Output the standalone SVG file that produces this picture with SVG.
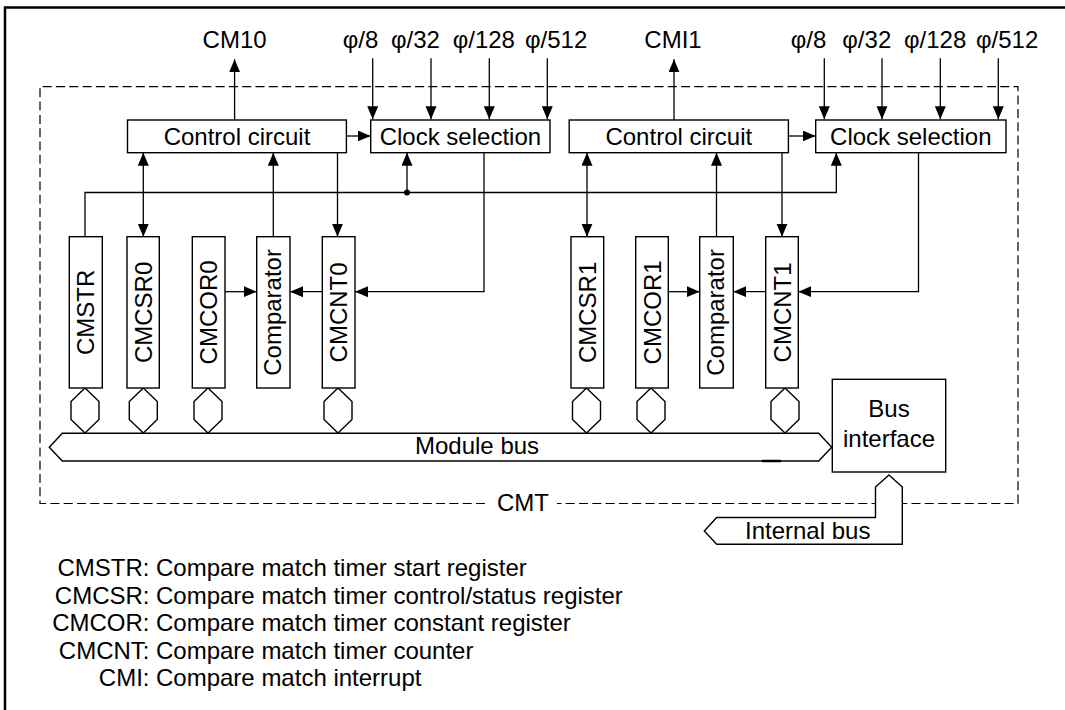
<svg xmlns="http://www.w3.org/2000/svg" width="1065" height="710" viewBox="0 0 1065 710">
<style>
text{font-family:"Liberation Sans",Arial,sans-serif;font-size:24px;fill:#000}
.box{fill:#fff;stroke:#000;stroke-width:1.4}
.ln{fill:none;stroke:#000;stroke-width:1.3}
.mid{text-anchor:middle}
.end{text-anchor:end}
</style>
<defs>
<marker id="ah" markerUnits="userSpaceOnUse" markerWidth="14" markerHeight="12" refX="13" refY="5.5" orient="auto-start-reverse">
<path d="M0,0 L13,5.5 L0,11 z" fill="#000"/>
</marker>
</defs>
<rect x="5" y="7.5" width="1070" height="715" fill="none" stroke="#000" stroke-width="2.5"/>
<g id="cmt-boundary">
<path d="M485 503.5 H40 V86.7 H1018 V503.5 H557" fill="none" stroke="#000" stroke-width="1.2" stroke-dasharray="9 4.3"/>
<text class="mid" x="523" y="511">CMT</text>
</g>
<g id="connectors">
<path class="ln" d="M234.6 120 V59.3" marker-end="url(#ah)"/>
<path class="ln" d="M674 120 V59.3" marker-end="url(#ah)"/>
<path class="ln" d="M372.7 58.3 V119.3" marker-end="url(#ah)"/>
<path class="ln" d="M431 58.3 V119.3" marker-end="url(#ah)"/>
<path class="ln" d="M489.3 58.3 V119.3" marker-end="url(#ah)"/>
<path class="ln" d="M547.3 58.3 V119.3" marker-end="url(#ah)"/>
<path class="ln" d="M824.3 58.3 V119.3" marker-end="url(#ah)"/>
<path class="ln" d="M882 58.3 V119.3" marker-end="url(#ah)"/>
<path class="ln" d="M940.3 58.3 V119.3" marker-end="url(#ah)"/>
<path class="ln" d="M998.3 58.3 V119.3" marker-end="url(#ah)"/>
<path class="ln" d="M346.4 136 H370.7" marker-end="url(#ah)"/>
<path class="ln" d="M788.4 136 H815.7" marker-end="url(#ah)"/>
<path class="ln" d="M143.3 152.7 V236.7" marker-start="url(#ah)" marker-end="url(#ah)"/>
<path class="ln" d="M273.3 236.7 V152.7" marker-end="url(#ah)"/>
<path class="ln" d="M337.5 152.7 V236.7" marker-end="url(#ah)"/>
<path class="ln" d="M85 236.7 V192.5 H836.3 V152.7" marker-end="url(#ah)"/>
<path class="ln" d="M407 192.5 V152.7" marker-end="url(#ah)"/>
<circle cx="407" cy="192.5" r="3" fill="#000"/>
<path class="ln" d="M484 152.7 V291.7 H355" marker-end="url(#ah)"/>
<path class="ln" d="M225 291.7 H256.7" marker-end="url(#ah)"/>
<path class="ln" d="M322.3 291.7 H290" marker-end="url(#ah)"/>
<path class="ln" d="M587 152.7 V236.7" marker-start="url(#ah)" marker-end="url(#ah)"/>
<path class="ln" d="M716.5 236.7 V152.7" marker-end="url(#ah)"/>
<path class="ln" d="M782 152.7 V236.7" marker-end="url(#ah)"/>
<path class="ln" d="M918.5 152.7 V291.7 H798.3" marker-end="url(#ah)"/>
<path class="ln" d="M668.3 291.7 H699.7" marker-end="url(#ah)"/>
<path class="ln" d="M765.7 291.7 H733.3" marker-end="url(#ah)"/>
<polygon class="box" points="85,388 99,401.5 99,419.5 85,433 71,419.5 71,401.5"/>
<polygon class="box" points="143.3,388 157.3,401.5 157.3,419.5 143.3,433 129.3,419.5 129.3,401.5"/>
<polygon class="box" points="208,388 222,401.5 222,419.5 208,433 194,419.5 194,401.5"/>
<polygon class="box" points="338,388 352,401.5 352,419.5 338,433 324,419.5 324,401.5"/>
<polygon class="box" points="586.5,388 600.5,401.5 600.5,419.5 586.5,433 572.5,419.5 572.5,401.5"/>
<polygon class="box" points="651,388 665,401.5 665,419.5 651,433 637,419.5 637,401.5"/>
<polygon class="box" points="785,388 799,401.5 799,419.5 785,433 771,419.5 771,401.5"/>
</g>
<g id="signals">
<text class="mid" x="234.6" y="48.3">CM10</text>
<text class="mid" x="673" y="48.3">CMI1</text>
<text x="342.7" y="48.3">φ/8</text>
<text x="391" y="48.3">φ/32</text>
<text x="452.7" y="48.3">φ/128</text>
<text x="525" y="48.3">φ/512</text>
<text x="790.7" y="48.3">φ/8</text>
<text x="842.3" y="48.3">φ/32</text>
<text x="904" y="48.3">φ/128</text>
<text x="976" y="48.3">φ/512</text>
</g>
<g id="control-circuit-0"><rect class="box" x="127.5" y="120" width="218.9" height="32.7"/><text class="mid" x="237" y="145">Control circuit</text></g>
<g id="clock-selection-0"><rect class="box" x="370.7" y="120" width="179.3" height="32.7"/><text class="mid" x="460.4" y="145">Clock selection</text></g>
<g id="control-circuit-1"><rect class="box" x="569.2" y="120" width="219.2" height="32.7"/><text class="mid" x="678.8" y="145">Control circuit</text></g>
<g id="clock-selection-1"><rect class="box" x="815.7" y="120" width="190.3" height="32.7"/><text class="mid" x="910.8" y="145">Clock selection</text></g>
<g id="cmstr"><rect class="box" x="69.3" y="236.7" width="33" height="151.3"/><text class="mid" transform="translate(94.3 312.4) rotate(-90)">CMSTR</text></g>
<g id="cmcsr0"><rect class="box" x="127" y="236.7" width="32.3" height="151.3"/><text class="mid" transform="translate(151.7 312.4) rotate(-90)">CMCSR0</text></g>
<g id="cmcor0"><rect class="box" x="192.3" y="236.7" width="32.7" height="151.3"/><text class="mid" transform="translate(217.2 312.4) rotate(-90)">CMCOR0</text></g>
<g id="comparator0"><rect class="box" x="256.7" y="236.7" width="33.3" height="151.3"/><text class="mid" transform="translate(280.8 312.4) rotate(-90)">Comparator</text></g>
<g id="cmcnt0"><rect class="box" x="322.3" y="236.7" width="32.7" height="151.3"/><text class="mid" transform="translate(347.2 312.4) rotate(-90)">CMCNT0</text></g>
<g id="cmcsr1"><rect class="box" x="571" y="236.7" width="32.7" height="151.3"/><text class="mid" transform="translate(595.8 312.4) rotate(-90)">CMCSR1</text></g>
<g id="cmcor1"><rect class="box" x="635.7" y="236.7" width="32.6" height="151.3"/><text class="mid" transform="translate(660.5 312.4) rotate(-90)">CMCOR1</text></g>
<g id="comparator1"><rect class="box" x="699.7" y="236.7" width="33.6" height="151.3"/><text class="mid" transform="translate(724 312.4) rotate(-90)">Comparator</text></g>
<g id="cmcnt1"><rect class="box" x="765.7" y="236.7" width="32.6" height="151.3"/><text class="mid" transform="translate(790.5 312.4) rotate(-90)">CMCNT1</text></g>
<g id="module-bus">
<polygon class="box" points="49.3,447.2 62.3,433.3 818.7,433.3 831.7,447.2 818.7,461 62.3,461"/>
<line x1="762" y1="461" x2="781" y2="461" stroke="#000" stroke-width="2.5"/>
<text x="415" y="454.3">Module bus</text>
</g>
<g id="bus-interface"><rect class="box" x="832.3" y="379.3" width="113.4" height="92.7"/><text class="mid" x="889" y="416.7">Bus</text><text class="mid" x="889" y="446.7">interface</text></g>
<g id="internal-bus">
<polygon class="box" points="889,475 902.3,487 902.3,544.3 716.7,544.3 704.3,531 716.7,517.5 875.5,517.5 875.5,487"/>
<text class="mid" x="807.7" y="539">Internal bus</text>
</g>
<g id="legend">
<text class="end" x="149.5" y="576">CMSTR:</text><text x="156" y="576">Compare match timer start register</text>
<text class="end" x="149.5" y="603.5">CMCSR:</text><text x="156" y="603.5">Compare match timer control/status register</text>
<text class="end" x="149.5" y="631">CMCOR:</text><text x="156" y="631">Compare match timer constant register</text>
<text class="end" x="149.5" y="658.5">CMCNT:</text><text x="156" y="658.5">Compare match timer counter</text>
<text class="end" x="149.5" y="686">CMI:</text><text x="156" y="686">Compare match interrupt</text>
</g>
</svg>
